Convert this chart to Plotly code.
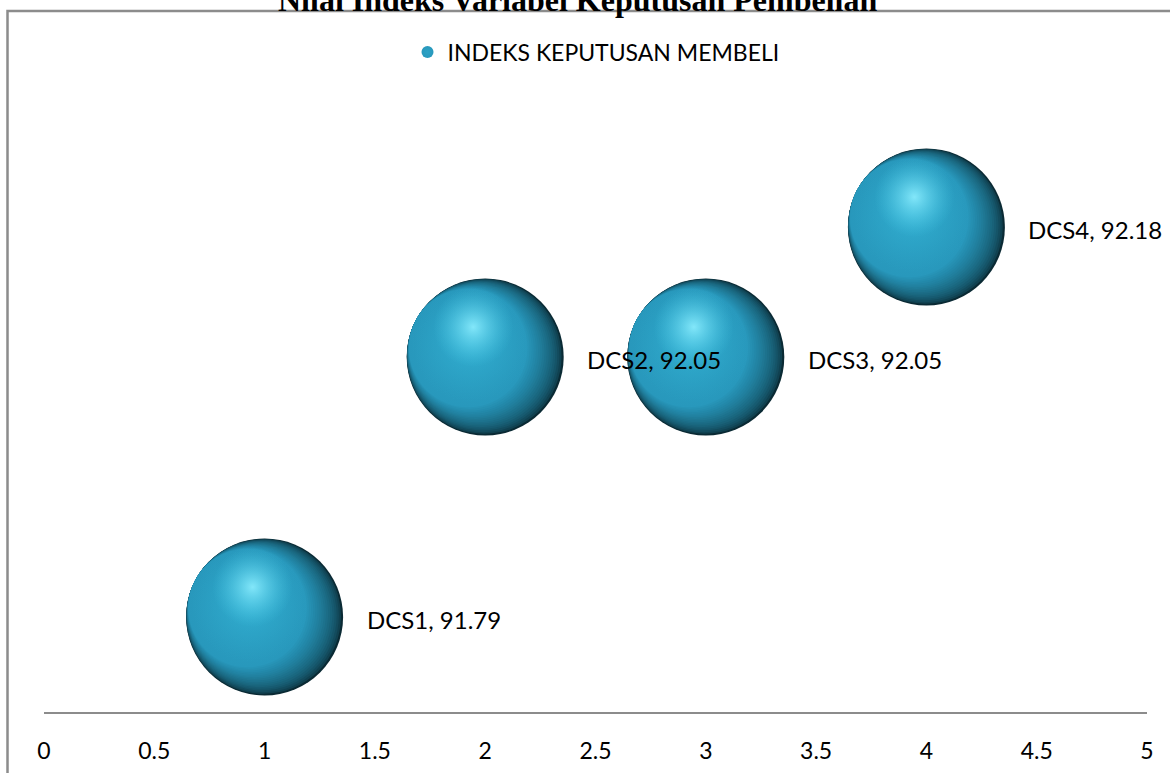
import plotly.graph_objects as go
import numpy as np

# ---- data ----
categories = ["DCS1", "DCS2", "DCS3", "DCS4"]
x_vals = [1, 2, 3, 4]
y_vals = [91.79, 92.05, 92.05, 92.18]
series_name = "INDEKS KEPUTUSAN MEMBELI"
title_text = "Nilai Indeks Variabel Keputusan Pembelian"
x_ticks = [0, 0.5, 1, 1.5, 2, 2.5, 3, 3.5, 4, 4.5, 5]
x_tick_labels = ["0", "0.5", "1", "1.5", "2", "2.5", "3", "3.5", "4", "4.5", "5"]

W, H = 1170, 773
ML, MR, MT, MB = 44, 23, 100, 61
x_range = [0, 5]
y_range = [91.695, 92.307]
PW, PH = W - ML - MR, H - MT - MB
px_per_x = PW / (x_range[1] - x_range[0])
px_per_y = PH / (y_range[1] - y_range[0])

x = np.array(x_vals, dtype=float)
y = np.array(y_vals, dtype=float)
BUB = 157

fig = go.Figure()

dark = np.array([10, 42, 52])
teal = np.array([40, 152, 188])
N = 18
for k in range(N):
    t = k / (N - 1)
    dx, dy = 17 * t, 9 * t
    size = BUB - 2 * np.hypot(dx, dy)
    c = dark + (teal - dark) * (t ** 0.55)
    col = "rgb(%d,%d,%d)" % tuple(c)
    leg = (k == N - 1)
    marker = dict(size=size, color=col, line=dict(width=0))
    if leg:
        marker = dict(size=size, color=col,
                      gradient=dict(type="radial", color="#2ca2c5"),
                      line=dict(width=0))
    fig.add_trace(go.Scatter(
        x=x - dx / px_per_x, y=y + dy / px_per_y, mode="markers",
        name=series_name, showlegend=leg, marker=marker, hoverinfo="skip",
    ))
# soft body glow
fig.add_trace(go.Scatter(
    x=x - 14 / px_per_x, y=y + 14 / px_per_y, mode="markers", showlegend=False,
    marker=dict(size=118, color="rgba(44,165,200,0)",
                gradient=dict(type="radial", color="rgba(52,178,212,0.8)"),
                line=dict(width=0)),
    hoverinfo="skip",
))
# specular highlight
fig.add_trace(go.Scatter(
    x=x - 12 / px_per_x, y=y + 30 / px_per_y, mode="markers", showlegend=False,
    marker=dict(size=80, color="rgba(70,200,230,0)",
                gradient=dict(type="radial", color="rgba(140,238,255,0.9)"),
                line=dict(width=0)),
    hoverinfo="skip",
))

annotations = []
for c, xv, yv in zip(categories, x_vals, y_vals):
    annotations.append(dict(
        x=xv, y=yv, xref="x", yref="y", text=f"{c}, {yv:.2f}",
        showarrow=False, xanchor="left", yanchor="middle", xshift=100, yshift=-2,
        font=dict(family="Lato", size=24, color="#000000"),
    ))
annotations.append(dict(
    x=(577 - ML) / PW, y=(H - MB + 0) / PH, xref="paper", yref="paper",
    text=f"<b>{title_text}</b>", showarrow=False, xanchor="center", yanchor="middle",
    font=dict(family="Liberation Serif", size=32, color="#000000"),
))

fig.update_layout(
    width=W, height=H,
    margin=dict(l=ML, r=MR, t=MT, b=MB, autoexpand=False),
    paper_bgcolor="white", plot_bgcolor="white",
    showlegend=True,
    legend=dict(orientation="h", x=(596 - ML) / PW, xanchor="center",
                y=(H - MB - 52) / PH, yanchor="middle",
                font=dict(family="Lato", size=23, color="#000000"),
                itemsizing="constant", bgcolor="rgba(0,0,0,0)"),
    xaxis=dict(range=x_range, tickmode="array", tickvals=x_ticks, ticktext=x_tick_labels,
               showline=True, linecolor="#8c8c8c", linewidth=2, showgrid=False,
               zeroline=False, ticks="", ticklabelstandoff=17, automargin=False,
               tickfont=dict(family="Lato", size=23, color="#000000")),
    yaxis=dict(range=y_range, visible=False, showgrid=False, zeroline=False,
               automargin=False),
    annotations=annotations,
    shapes=[dict(type="rect", xref="paper", yref="paper",
                 x0=(7.5 - ML) / PW, x1=1.2,
                 y0=-0.3, y1=(H - MB - 11) / PH,
                 line=dict(color="#8c8c8c", width=2.5), fillcolor="rgba(0,0,0,0)",
                 layer="below")],
)

fig.write_html("out.html")
